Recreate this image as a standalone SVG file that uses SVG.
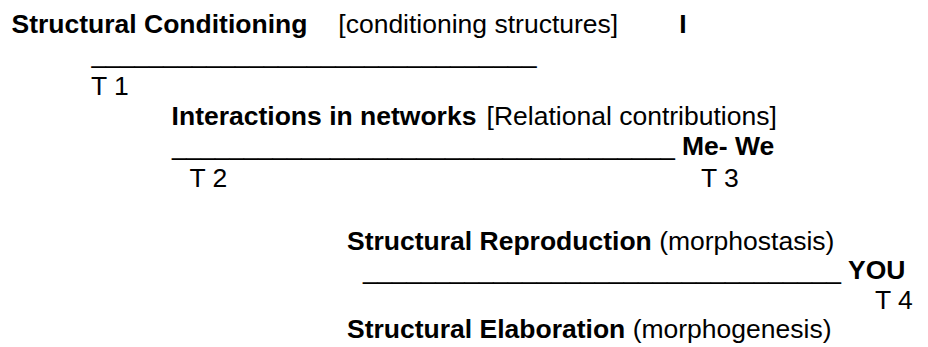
<svg xmlns="http://www.w3.org/2000/svg" width="928" height="347" viewBox="0 0 928 347">
  <style>
    text { font-family: "Liberation Sans", Arial, sans-serif; font-size: 26.5px; fill: #000; }
    .b { font-weight: bold; }
  </style>
  <rect width="928" height="347" fill="#fff"/>

  <!-- level 1: structural conditioning -->
  <g id="structural-conditioning">
    <text class="b" x="11.5" y="33">Structural Conditioning</text>
    <text x="338.3" y="33">[conditioning structures]</text>
    <text class="b" x="679.3" y="33">I</text>
  </g>

  <g id="t1-rule">
    <text x="91.5" y="63" textLength="445" lengthAdjust="spacingAndGlyphs">_______________________________</text>
    <text x="91" y="95">T 1</text>
  </g>

  <!-- level 2: interactions -->
  <g id="interactions">
    <text class="b" x="171.6" y="125">Interactions in networks</text>
    <text x="486.6" y="125">[Relational contributions]</text>
  </g>

  <g id="t2-t3-rule">
    <text x="172" y="155" textLength="503" lengthAdjust="spacingAndGlyphs">___________________________________</text>
    <text class="b" x="682" y="155">Me- We</text>
    <text x="189.4" y="187">T 2</text>
    <text x="701" y="187">T 3</text>
  </g>

  <!-- level 3: reproduction / elaboration -->
  <g id="structural-reproduction">
    <text x="347" y="250"><tspan class="b">Structural Reproduction</tspan> (morphostasis)</text>
  </g>

  <g id="t4-rule">
    <text x="363" y="279" textLength="478" lengthAdjust="spacingAndGlyphs">_________________________________</text>
    <text class="b" x="848" y="279">YOU</text>
    <text x="875" y="309">T 4</text>
  </g>

  <g id="structural-elaboration">
    <text x="347" y="338"><tspan class="b">Structural Elaboration</tspan> (morphogenesis)</text>
  </g>
</svg>
